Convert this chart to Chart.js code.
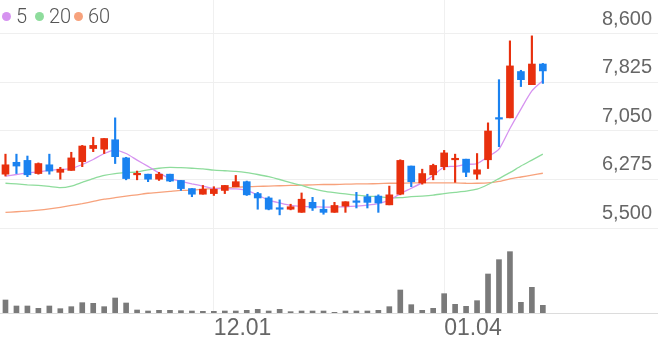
<!DOCTYPE html>
<html lang="ko">
<head>
	<meta charset="UTF-8">
	<title>Daily Candles</title>
	<script src="https://cdn.jsdelivr.net/npm/chart.js"></script>
	<style>
    	body {
        	margin: 0;
        	background: #fff;
        	font-family: Roboto, Arial, sans-serif;
    	}
    	.wrap {
        	position: relative;
        	width: 658px;
        	height: 342px;
    	}
    	.legend span {
        	position: absolute;
    	}
    	.legend .dot {
        	top: 12px;
        	width: 9px;
        	height: 9px;
        	border-radius: 50%;
    	}
    	.legend .txt {
        	top: 4px;
        	font-size: 20px;
        	line-height: 24px;
        	font-weight: 300;
        	color: #555;
    	}
	</style>
</head>
<body>
	<div class="wrap">
    	<canvas id="chart" width="658" height="342"></canvas>
    	<!-- moving average legend -->
    	<div class="legend">
        	<span class="dot" style="left:2px;background:#d693f0"></span><span class="txt" style="left:16px">5</span>
        	<span class="dot" style="left:35px;background:#8edc9c"></span><span class="txt" style="left:49px">20</span>
        	<span class="dot" style="left:74px;background:#f7a27c"></span><span class="txt" style="left:88px">60</span>
    	</div>
	</div>

	<script>
    	const dates = [
        	'11.06','11.07','11.08','11.09','11.10','11.13','11.14','11.15','11.16','11.17',
        	'11.20','11.21','11.22','11.23','11.24','11.27','11.28','11.29','11.30','12.01',
        	'12.04','12.05','12.06','12.07','12.08','12.11','12.12','12.13','12.14','12.15',
        	'12.18','12.19','12.20','12.21','12.22','12.26','12.27','12.28','01.02','01.03',
        	'01.04','01.05','01.08','01.09','01.10','01.11','01.12','01.15','01.16','01.17'
    	];
    	const opens = [
        	6360,6550,6580,6370,6510,6390,6420,6560,6770,6760,
        	6910,6620,6350,6360,6280,6360,6260,6130,6040,6050,
        	6100,6160,6240,6050,5980,5820,5800,5750,5910,5800,
        	5750,5850,5930,6000,6010,5870,6040,6490,6220,6350,
        	6480,6590,6600,6360,6590,7260,7260,8000,7790,8120
    	];
    	const highs = [
        	6680,6680,6650,6540,6680,6470,6710,6820,6950,6930,
        	7260,6630,6410,6360,6390,6360,6260,6130,6180,6160,
        	6180,6340,6250,6070,6000,5950,5880,6060,5990,5950,
        	5910,5920,6070,6040,6030,6170,6590,6490,6440,6520,
        	6740,6680,6600,6690,7180,7870,8490,8020,8570,8130
    	];
    	const lows = [
        	6330,6370,6320,6360,6360,6280,6420,6480,6720,6690,
        	6530,6270,6270,6240,6260,6240,6100,6000,6040,6020,
        	6050,6160,6020,5800,5790,5710,5790,5750,5780,5720,
        	5750,5750,5820,5820,5750,5870,6030,6160,6200,6270,
        	6430,6230,6320,6280,6450,6800,7260,7760,7790,7810
    	];
    	const closes = [
        	6510,6490,6350,6530,6410,6440,6620,6810,6820,6930,
        	6640,6290,6370,6280,6360,6250,6130,6040,6120,6120,
        	6180,6240,6030,5980,5800,5800,5840,5960,5820,5750,
        	5860,5920,5910,5910,5900,6030,6580,6240,6370,6500,
        	6700,6610,6390,6430,7050,7240,8090,7870,8120,8010
    	];
    	// volume, thousands of shares
    	const volumes = [
        	390,210,210,140,210,130,190,310,290,190,
        	450,300,90,60,80,80,70,60,50,50,
        	60,60,80,110,60,110,40,60,60,60,
        	20,60,60,60,80,190,690,250,80,140,
        	580,260,200,370,1170,1600,1840,320,770,230
    	];
    	const ma5 = [
        	6330,6355,6380,6395,6420,6435,6450,6515,6595,6690,
        	6745,6690,6585,6485,6380,6290,6245,6205,6170,6130,
        	6130,6125,6100,6025,5945,5900,5860,5845,5840,5835,
        	5835,5840,5850,5865,5890,5945,6050,6135,6225,6340,
        	6475,6485,6515,6530,6640,6760,7090,7400,7690,7855
    	];
    	const ma20 = [
        	6215,6205,6190,6180,6165,6145,6170,6230,6290,6340,
        	6370,6385,6395,6430,6455,6470,6465,6455,6445,6425,
        	6415,6405,6385,6355,6320,6275,6225,6180,6130,6090,
        	6065,6045,6025,6010,6000,5985,5985,6000,6010,6025,
        	6050,6070,6090,6120,6195,6290,6385,6490,6585,6680
    	];
    	const ma60 = [
        	5750,5760,5770,5785,5805,5830,5860,5890,5925,5960,
        	5985,6010,6030,6055,6070,6085,6100,6105,6120,6130,
        	6140,6150,6160,6165,6170,6175,6180,6185,6190,6195,
        	6195,6200,6205,6205,6210,6215,6215,6220,6220,6220,
        	6220,6220,6215,6215,6220,6245,6285,6315,6345,6375
    	];
    	const priceTicks = [5500, 6275, 7050, 7825, 8600];
    	const shownDates = ['12.01', '01.04'];
    	const emptySlots = 10;

    	const labels = dates.concat(Array(emptySlots).fill(''));
    	const UP = '#e8300e';
    	const DOWN = '#1a82f0';
    	const candleColors = opens.map((o, i) => closes[i] >= o ? UP : DOWN);

    	const maLine = (label, data, color) => ({
        	type: 'line',
        	label,
        	data,
        	yAxisID: 'y',
        	borderColor: color,
        	borderWidth: 1.3,
        	pointRadius: 0,
        	tension: 0.2
    	});

    	new Chart(document.getElementById('chart'), {
        	type: 'bar',
        	data: {
            	labels,
            	datasets: [
                	{
                    	label: 'body',
                    	data: opens.map((o, i) => [o, closes[i]]),
                    	yAxisID: 'y',
                    	backgroundColor: candleColors,
                    	barThickness: 7,
                    	minBarLength: 1.5,
                    	grouped: false,
                    	borderWidth: 0
                	},
                	{
                    	label: 'wick',
                    	data: lows.map((l, i) => [l, highs[i]]),
                    	yAxisID: 'y',
                    	backgroundColor: candleColors,
                    	barThickness: 1.5,
                    	grouped: false,
                    	borderWidth: 0
                	},
                	maLine('5', ma5, '#d693f0'),
                	maLine('20', ma20, '#8edc9c'),
                	maLine('60', ma60, '#f7a27c'),
                	{
                    	label: 'volume',
                    	data: volumes,
                    	yAxisID: 'vol',
                    	backgroundColor: '#7a7a7a',
                    	barThickness: 5,
                    	grouped: false,
                    	borderWidth: 0
                	}
            	]
        	},
        	options: {
            	responsive: false,
            	animation: false,
            	layout: { padding: 0 },
            	plugins: {
                	legend: { display: false },
                	tooltip: { enabled: false }
            	},
            	scales: {
                	x: {
                    	offset: true,
                    	grid: { offset: false, color: '#f0f0f0', drawTicks: false },
                    	border: { color: '#dcdcdc' },
                    	ticks: {
                        	autoSkip: false,
                        	maxRotation: 0,
                        	align: 'start',
                        	padding: 2,
                        	color: '#666',
                        	font: { size: 23, weight: 300 }
                    	},
                    	afterBuildTicks: s => {
                        	s.ticks = s.ticks.filter(t => shownDates.includes(labels[t.value]));
                    	},
                    	afterFit: s => {
                        	s.height = 29;
                        	s.paddingLeft = 0;
                        	s.paddingRight = 0;
                    	}
                	},
                	y: {
                    	position: 'right',
                    	min: 4142,
                    	max: 9143,
                    	grid: { color: '#efefef', drawTicks: false },
                    	border: { display: false },
                    	ticks: {
                        	mirror: true,
                        	padding: -6,
                        	labelOffset: -15,
                        	color: '#666',
                        	font: { size: 20, weight: 300 },
                        	callback: v => v.toLocaleString('en-US')
                    	},
                    	afterBuildTicks: s => {
                        	s.ticks = priceTicks.map(v => ({ value: v }));
                    	},
                    	afterFit: s => {
                        	s.width = 0;
                        	s.paddingTop = 0;
                        	s.paddingBottom = 0;
                    	}
                	},
                	vol: {
                    	position: 'left',
                    	display: false,
                    	min: 0,
                    	max: 9390
                	}
            	}
        	}
    	});
	</script>
</body>
</html>
